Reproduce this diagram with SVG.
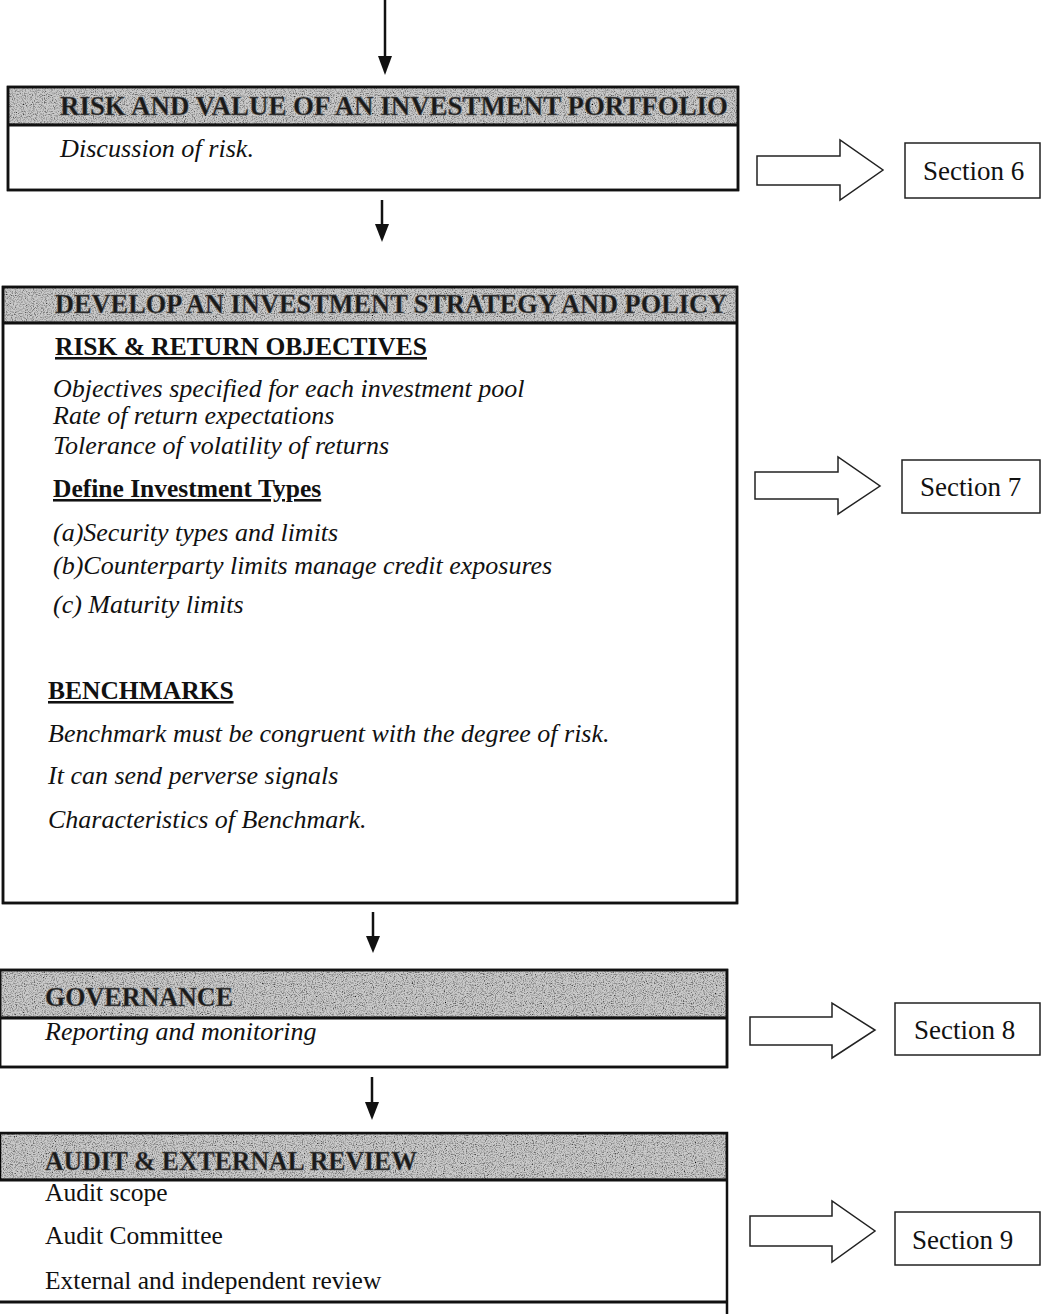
<svg xmlns="http://www.w3.org/2000/svg" width="1042" height="1314" viewBox="0 0 1042 1314">
  <style>
    .frame { fill: #ffffff; stroke: #111; stroke-width: 2.5; }
    .band { fill: #cacaca; stroke: #111; stroke-width: 2.5; }
    .rule { stroke: #111; stroke-width: 3; }
    .head { font-family: "Liberation Serif", serif; font-weight: bold; font-size: 28px; fill: #1a1a1a; stroke: #666; stroke-width: 0.5; }
    .sub { font-family: "Liberation Serif", serif; font-weight: bold; font-size: 25.5px; fill: #111; text-decoration: underline; }
    .it { font-family: "Liberation Serif", serif; font-style: italic; font-size: 26px; fill: #111; }
    .rg { font-family: "Liberation Serif", serif; font-size: 25.5px; fill: #111; }
    .sec { font-family: "Liberation Serif", serif; font-size: 27px; fill: #111; }
    .secbox { fill: #fff; stroke: #222; stroke-width: 1.5; }
    .hollow { fill: #fff; stroke: #222; stroke-width: 1.5; }
    .flow { stroke: #111; stroke-width: 2.5; fill: none; }
  </style>
  <defs>
    <!-- speckled halftone for the title bands -->
    <filter id="grain" x="0" y="0" width="100%" height="100%">
      <feTurbulence type="fractalNoise" baseFrequency="0.9" numOctaves="2" seed="7" result="noise"/>
      <feColorMatrix in="noise" type="matrix" values="0 0 0 0 0  0 0 0 0 0  0 0 0 0 0  0 0 0 2.2 -0.95" result="dots"/>
      <feComposite in="dots" in2="SourceGraphic" operator="in" result="speck"/>
      <feMerge>
        <feMergeNode in="SourceGraphic"/>
        <feMergeNode in="speck"/>
      </feMerge>
    </filter>
  </defs>
  <rect width="1042" height="1314" fill="#fff"/>

  <!-- flow connectors and side arrows -->
  <g id="connectors">
    <line class="flow" x1="385" y1="0" x2="385" y2="56"/>
    <path d="M378,56 L392,56 L385,75 z" fill="#111"/>
    <line class="flow" x1="382" y1="200" x2="382" y2="224"/>
    <path d="M375,224 L389,224 L382,242 z" fill="#111"/>
    <line class="flow" x1="373" y1="912" x2="373" y2="936"/>
    <path d="M366,936 L380,936 L373,953 z" fill="#111"/>
    <line class="flow" x1="372" y1="1077" x2="372" y2="1102"/>
    <path d="M365,1102 L379,1102 L372,1120 z" fill="#111"/>

    <polygon class="hollow" points="757,156 840,156 840,140 883,170 840,200 840,185 757,185"/>
    <polygon class="hollow" points="755,472 838,472 838,457 880,486 838,514 838,499 755,499"/>
    <polygon class="hollow" points="750,1017 832,1017 832,1003 875,1030 832,1058 832,1045 750,1045"/>
    <polygon class="hollow" points="750,1216 832,1216 832,1201 875,1231 832,1262 832,1246 750,1246"/>
  </g>

  <g id="risk-value">
    <rect class="frame" x="8" y="87" width="730" height="103"/>
    <rect class="band" x="8" y="87" width="730" height="38" filter="url(#grain)"/>
    <rect x="8" y="87" width="730" height="103" fill="none" stroke="#111" stroke-width="2.5"/>
    <line class="rule" x1="8" y1="125" x2="738" y2="125"/>
    <text class="head" x="60" y="115" textLength="668" lengthAdjust="spacingAndGlyphs">RISK AND VALUE OF AN INVESTMENT PORTFOLIO</text>
    <text class="it" x="60" y="157" textLength="194" lengthAdjust="spacingAndGlyphs">Discussion of risk.</text>
  </g>

  <g id="section-6">
    <rect class="secbox" x="905" y="143" width="135" height="55"/>
    <text class="sec" x="923" y="180">Section 6</text>
  </g>

  <g id="strategy-policy">
    <rect class="frame" x="3" y="287" width="734" height="616"/>
    <rect class="band" x="3" y="287" width="734" height="36" filter="url(#grain)"/>
    <rect x="3" y="287" width="734" height="616" fill="none" stroke="#111" stroke-width="2.5"/>
    <line class="rule" x1="3" y1="323" x2="737" y2="323"/>
    <text class="head" x="55" y="313" textLength="672" lengthAdjust="spacingAndGlyphs">DEVELOP AN INVESTMENT STRATEGY AND POLICY</text>
    <text class="sub" x="55" y="355">RISK &amp; RETURN OBJECTIVES</text>
    <text class="it" x="53" y="397">Objectives specified for each investment pool</text>
    <text class="it" x="53" y="424">Rate of return expectations</text>
    <text class="it" x="53" y="454">Tolerance of volatility of returns</text>
    <text class="sub" x="53" y="497" font-size="24.5px">Define Investment Types</text>
    <text class="it" x="53" y="541">(a)Security types and limits</text>
    <text class="it" x="53" y="574">(b)Counterparty limits manage credit exposures</text>
    <text class="it" x="53" y="613">(c) Maturity limits</text>
    <text class="sub" x="48" y="699">BENCHMARKS</text>
    <text class="it" x="48" y="742">Benchmark must be congruent with the degree of risk.</text>
    <text class="it" x="48" y="784">It can send perverse signals</text>
    <text class="it" x="48" y="828">Characteristics of Benchmark.</text>
  </g>

  <g id="section-7">
    <rect class="secbox" x="902" y="460" width="138" height="53"/>
    <text class="sec" x="920" y="496">Section 7</text>
  </g>

  <g id="governance">
    <rect class="frame" x="0" y="970" width="727" height="97"/>
    <rect class="band" x="0" y="970" width="727" height="48" filter="url(#grain)"/>
    <rect x="0" y="970" width="727" height="97" fill="none" stroke="#111" stroke-width="2.5"/>
    <line class="rule" x1="0" y1="1018" x2="727" y2="1018"/>
    <text class="head" x="45" y="1006" textLength="188" lengthAdjust="spacingAndGlyphs">GOVERNANCE</text>
    <text class="it" x="45" y="1040">Reporting and monitoring</text>
  </g>

  <g id="section-8">
    <rect class="secbox" x="895" y="1003" width="145" height="52"/>
    <text class="sec" x="914" y="1039">Section 8</text>
  </g>

  <g id="audit-review">
    <rect class="band" x="0" y="1133" width="727" height="47" filter="url(#grain)"/>
    <path d="M0,1133 H727 V1314" class="flow"/>
    <line class="rule" x1="0" y1="1180" x2="727" y2="1180"/>
    <line class="rule" x1="0" y1="1302" x2="727" y2="1302"/>
    <text class="head" x="45" y="1170" textLength="372" lengthAdjust="spacingAndGlyphs">AUDIT &amp; EXTERNAL REVIEW</text>
    <text class="rg" x="45" y="1201">Audit scope</text>
    <text class="rg" x="45" y="1244">Audit Committee</text>
    <text class="rg" x="45" y="1289">External and independent review</text>
  </g>

  <g id="section-9">
    <rect class="secbox" x="895" y="1212" width="145" height="53"/>
    <text class="sec" x="912" y="1249">Section 9</text>
  </g>
</svg>
